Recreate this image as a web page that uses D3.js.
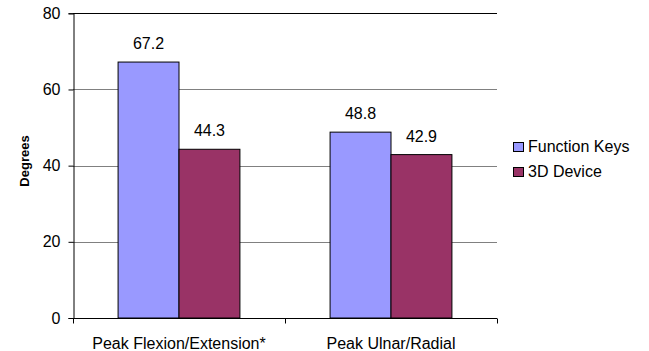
<!DOCTYPE html>
<html>
<head>
<meta charset="utf-8">
<script src="https://cdn.jsdelivr.net/npm/d3@7"></script>
<style>
  html, body { margin: 0; padding: 0; background: #fff; }
  text { font-family: "Liberation Sans", Arial, sans-serif; }
</style>
</head>
<body>
<svg id="chart" width="649" height="351"></svg>
<script>
// Peak wrist angles by input method
const categories = ["Peak Flexion/Extension*", "Peak Ulnar/Radial"];
const seriesNames = ["Function Keys", "3D Device"];
const functionKeys = [67.2, 48.8];
const device3D = [44.3, 42.9];
const yTicks = [0, 20, 40, 60, 80];
const colors = ["#9999FF", "#993366"];

const series = [functionKeys, device3D];
const svg = d3.select("#chart");
const FONT = "Liberation Sans, Arial, sans-serif";

const margin = { left: 73, right: 152, top: 13.3, bottom: 33 };
const W = 649, H = 351;
const x0 = margin.left, x1 = W - margin.right;
const yTop = margin.top, yBot = H - margin.bottom;

const x = d3.scaleBand().domain(categories).range([x0, x1]);
const xs = d3.scaleBand().domain(seriesNames).range([0, x.bandwidth()]).paddingInner(0).paddingOuter(0.74);
const y = d3.scaleLinear().domain([0, 80]).range([yBot, yTop]);

// gridlines
svg.append("g")
  .selectAll("line")
  .data(yTicks.filter(t => t > 0))
  .join("line")
  .attr("x1", x0).attr("x2", x1)
  .attr("y1", d => Math.round(y(d)) + 0.5).attr("y2", d => Math.round(y(d)) + 0.5)
  .attr("stroke", d => d === 80 ? "#000" : "#808080")
  .attr("stroke-width", 1);

// bars
const groups = svg.append("g")
  .selectAll("g")
  .data(categories)
  .join("g")
  .attr("transform", d => `translate(${x(d)},0)`);

groups.selectAll("rect")
  .data((c, i) => seriesNames.map((s, j) => ({ s, j, v: series[j][i] })))
  .join("rect")
  .attr("x", d => xs(d.s))
  .attr("width", xs.bandwidth())
  .attr("y", d => y(d.v))
  .attr("height", d => yBot - y(d.v))
  .attr("fill", d => colors[d.j])
  .attr("stroke", "#000")
  .attr("stroke-width", 1);

// value labels
groups.selectAll("text")
  .data((c, i) => seriesNames.map((s, j) => ({ s, j, v: series[j][i] })))
  .join("text")
  .attr("x", d => xs(d.s) + xs.bandwidth() / 2)
  .attr("y", d => y(d.v) - 13)
  .attr("text-anchor", "middle")
  .attr("font-size", 16)
  .text(d => d.v.toFixed(1));

// y axis
const yAxis = d3.axisLeft(y).tickValues(yTicks).tickSize(5).tickPadding(8);
const gy = svg.append("g").attr("transform", `translate(${x0 + 0.5},0)`).call(yAxis);
gy.select(".domain").attr("stroke", "#000");
gy.selectAll(".tick text").attr("font-size", 16).attr("font-family", FONT).attr("fill", "#000");

// x axis
const xAxis = d3.axisBottom(x).tickSize(0).tickPadding(19);
const gx = svg.append("g").attr("transform", `translate(0,${yBot + 0.5})`).call(xAxis);
gx.select(".domain").attr("stroke", "#000").attr("d", `M${x0},0H${x1}`);
gx.selectAll(".tick text").attr("font-size", 16).attr("font-family", FONT).attr("fill", "#000").attr("dy", "0.71em");
// category boundary ticks
gx.selectAll("line.sep")
  .data([x0, x(categories[1]), x1])
  .join("line")
  .attr("class", "sep")
  .attr("x1", d => Math.round(d) + 0.5).attr("x2", d => Math.round(d) + 0.5)
  .attr("y1", 0).attr("y2", 5)
  .attr("stroke", "#000");

// y axis title
svg.append("text")
  .attr("transform", `translate(29,161) rotate(-90)`)
  .attr("text-anchor", "middle")
  .attr("font-size", 13)
  .attr("font-weight", "bold")
  .text("Degrees");

// legend
const legend = svg.append("g").attr("transform", "translate(513,142)");
const li = legend.selectAll("g").data(seriesNames).join("g")
  .attr("transform", (d, i) => `translate(0,${i * 25})`);
li.append("rect")
  .attr("x", 0.5).attr("y", 0.5).attr("width", 10).attr("height", 9)
  .attr("fill", (d, i) => colors[i]).attr("stroke", "#000");
li.append("text")
  .attr("x", 15).attr("y", 9.5)
  .attr("font-size", 16)
  .text(d => d);
</script>
</body>
</html>
